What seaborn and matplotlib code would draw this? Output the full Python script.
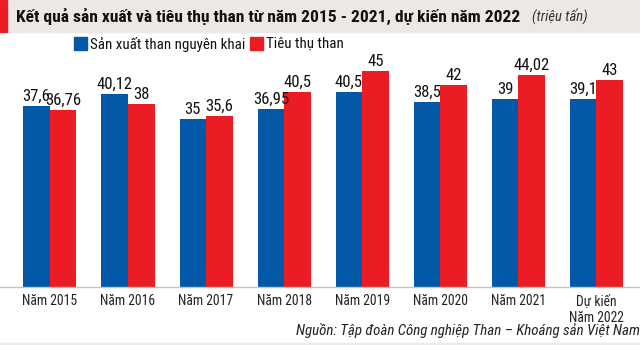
import matplotlib
matplotlib.use("Agg")
import os
import matplotlib.pyplot as plt
import seaborn as sns
import pandas as pd
from matplotlib.patches import Rectangle
from matplotlib import font_manager as fm

categories = ["Năm 2015", "Năm 2016", "Năm 2017", "Năm 2018", "Năm 2019",
              "Năm 2020", "Năm 2021", "Dự kiến\nNăm 2022"]
production = [37.6, 40.12, 35, 36.95, 40.5, 38.5, 39, 39.1]
consumption = [36.76, 38, 35.6, 40.5, 45, 42, 44.02, 43]
prod_labels = ["37,6", "40,12", "35", "36,95", "40,5", "38,5", "39", "39,1"]
cons_labels = ["36,76", "38", "35,6", "40,5", "45", "42", "44,02", "43"]
series_names = ["Sản xuất than nguyên khai", "Tiêu thụ than"]
title = "Kết quả sản xuất và tiêu thụ than từ năm 2015 - 2021, dự kiến năm 2022"
unit = "(triệu tấn)"
source = "Nguồn: Tập đoàn Công nghiệp Than – Khoáng sản Việt Nam"

BLUE = "#0358a8"
RED = "#ec1c24"

sns.set_theme(style="white")
plt.rcParams["font.family"] = ["Roboto Condensed", "DejaVu Sans"]

_files = {os.path.basename(f.fname).lower(): f.fname for f in fm.fontManager.ttflist}


def fp(size, style="Regular"):
    key = f"robotocondensed-{style}.ttf".lower()
    if key in _files:
        return fm.FontProperties(fname=_files[key], size=size)
    return fm.FontProperties(family=["DejaVu Sans"], size=size,
                             weight="bold" if "Bold" in style else "normal",
                             style="italic" if "Italic" in style else "normal",
                             stretch="condensed")


df = pd.DataFrame({
    "cat": categories * 2,
    "val": production + consumption,
    "series": [series_names[0]] * len(categories) + [series_names[1]] * len(categories),
})

fig = plt.figure(figsize=(6.4, 3.45), dpi=100)
ax = fig.add_axes([0, 0.169, 1, 0.657])
sns.barplot(data=df, x="cat", y="val", hue="series", palette=[BLUE, RED],
            width=0.68, ax=ax, legend=False, saturation=1, linewidth=0)
ax.set_xlim(-0.64, 7.56)
ax.set_ylim(0, 47.2)
for sp in ["top", "right", "left"]:
    ax.spines[sp].set_visible(False)
ax.spines["bottom"].set_color("#c4c4c4")
ax.spines["bottom"].set_linewidth(1)
ax.set_yticks([])
ax.set_xlabel("")
ax.set_ylabel("")
ax.tick_params(axis="x", length=0, pad=5.5, colors="#222222")
tick_fp = fp(9.8)
for lab in ax.get_xticklabels():
    lab.set_fontproperties(tick_fp)
    lab.set_linespacing(1.25)

val_fp = fp(12)
for cont, labs in zip(ax.containers, [prod_labels, cons_labels]):
    for t in ax.bar_label(cont, labels=labs, padding=1.5, color="#111111"):
        t.set_fontproperties(val_fp)

# header band
fig.patches.append(Rectangle((0, 1 - 32 / 345), 1, 32 / 345, transform=fig.transFigure,
                             color="#ebe8e6", zorder=0))
fig.patches.append(Rectangle((0, 1 - 32 / 345), 7 / 640, 32 / 345, transform=fig.transFigure,
                             color=RED, zorder=1))
fig.patches.append(Rectangle((0, 0), 1, 2.5 / 345, transform=fig.transFigure,
                             color="#ececec", zorder=0))
fig.text(16 / 640, 1 - 16 / 345, title, fontproperties=fp(12.6, "Bold"),
         va="center", ha="left", color="#111111")
fig.text(532 / 640, 1 - 16 / 345, unit, fontproperties=fp(10.5, "Italic"),
         va="center", ha="left", color="#333333")

# legend
fig.patches.append(Rectangle((74 / 640, 1 - 50 / 345), 13 / 640, 13 / 345,
                             transform=fig.transFigure, color=BLUE))
fig.text(90 / 640, 1 - 44 / 345, series_names[0], fontproperties=fp(10.8),
         va="center", ha="left", color="#111111")
fig.patches.append(Rectangle((250 / 640, 1 - 50 / 345), 13 / 640, 13 / 345,
                             transform=fig.transFigure, color=RED))
fig.text(266 / 640, 1 - 44 / 345, series_names[1], fontproperties=fp(10.8),
         va="center", ha="left", color="#111111")

fig.text(640 / 640, 1 - 331 / 345, source, fontproperties=fp(10.8, "Italic"),
         va="center", ha="right", color="#222222")

fig.savefig("out.png", dpi=100)
